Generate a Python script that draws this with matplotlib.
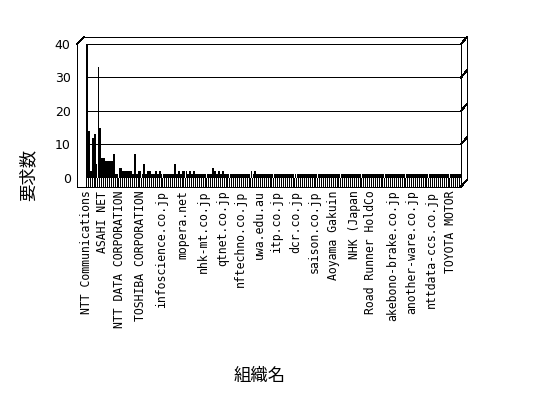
import numpy as np
import matplotlib
matplotlib.use("Agg")
import matplotlib.pyplot as plt
from matplotlib.lines import Line2D
from matplotlib.transforms import IdentityTransform, ScaledTranslation

W, H = 548, 398

# 要求数 for each organisation, one bar each, in the order of the chart
requests = [
    40, 14, 2, 12, 13, 4, 33, 15, 6, 6,
    5, 5, 5, 5, 7, 1, 1, 3, 3, 2,
    2, 2, 2, 2, 1, 7, 1, 2, 2, 1,
    4, 1, 2, 2, 1, 1, 2, 1, 2, 1,
    1, 1, 1, 1, 1, 1, 4, 1, 2, 1,
    2, 2, 2, 1, 2, 1, 2, 1, 1, 1,
    1, 1, 1, 1, 1, 1, 3, 2, 1, 2,
    1, 2, 1, 1, 1, 1, 1, 1, 1, 1,
    1, 1, 1, 1, 1, 1, 2, 1, 2, 1,
    1, 1, 1, 1, 1, 1, 1, 1, 1, 1,
    1, 1, 1, 1, 1, 1, 1, 1, 1, 1,
    1, 1, 1, 1, 1, 1, 1, 1, 1, 1,
    1, 1, 1, 1, 1, 1, 1, 1, 1, 1,
    1, 1, 1, 1, 1, 1, 1, 1, 1, 1,
    1, 1, 1, 1, 1, 1, 1, 1, 1, 1,
    1, 1, 1, 1, 1, 1, 1, 1, 1, 1,
    1, 1, 1, 1, 1, 1, 1, 1, 1, 1,
    1, 1, 1, 1, 1, 1, 1, 1, 1, 1,
    1, 1, 1, 1, 1, 1, 1, 1, 1, 1,
    1, 1, 1, 1, 1, 1,
]

# the organisations that get a label, and which bar each one belongs to
shown_names = [
    "NTT Communications", "ASAHI NET", "NTT DATA CORPORATION",
    "TOSHIBA CORPORATION", "infoscience.co.jp", "mopera.net",
    "nhk-mt.co.jp", "qtnet.co.jp", "nftechno.co.jp", "uwa.edu.au",
    "itp.co.jp", "dcr.co.jp", "saison.co.jp", "Aoyama Gakuin",
    "NHK (Japan", "Road Runner HoldCo", "akebono-brake.co.jp",
    "another-ware.co.jp", "nttdata-ccs.co.jp", "TOYOTA MOTOR",
]
shown_at = [0, 8, 17, 28, 39, 50, 61, 71, 80, 90,
            99, 109, 119, 129, 140, 148, 160, 170, 180, 190]
y_ticks = [0, 10, 20, 30, 40]

jp_font = ["Noto Sans CJK JP", "DejaVu Sans"]
LW = 0.72  # one pixel

fig = plt.figure(figsize=(W / 100, H / 100), dpi=100)
ax = fig.add_axes([86 / W, 1 - 186.5 / H, 375 / W, (186.5 - 44) / H])

x = np.arange(len(requests))
y_floor = -2.63
ax.bar(x, requests, width=0.95, color="black", linewidth=0, zorder=3)
# striped front edge of the floor
ax.vlines(x + 0.45, y_floor, 0, color="black", lw=LW,
          antialiased=False, zorder=3)

ax.set_xlim(-0.5, len(requests) - 0.5)
ax.set_ylim(y_floor, 40)
for g in y_ticks[1:-1]:
    ax.axhline(g, color="black", lw=LW, antialiased=False, zorder=1)

ax.set_yticks(y_ticks)
ax.set_xticks(shown_at)
ax.set_xticklabels(shown_names, rotation=90, fontsize=8.3,
                   family="DejaVu Sans Mono")
shift = ScaledTranslation(3 / 100, 0, fig.dpi_scale_trans)
for lbl in ax.get_xticklabels():
    lbl.set_transform(lbl.get_transform() + shift)
ax.tick_params(axis="x", length=0, pad=3)
ax.tick_params(axis="y", length=0, pad=11, labelsize=9)
for s in ax.spines.values():
    s.set_linewidth(LW)
    s.set_color("black")
    s.set_antialiased(False)


# 3D box around the plot, in pixels from the top-left corner
def seg(x0, y0, x1, y1):
    fig.add_artist(Line2D([x0, x1], [H - y0, H - y1], transform=IdentityTransform(),
                          color="black", lw=LW, antialiased=False))


seg(77, 44, 77, 186.5)
seg(77, 186.5, 86, 186.5)
seg(77, 44, 84, 37)
seg(84, 37, 467, 37)
seg(467, 37, 467, 180)
seg(467, 180, 461, 186.5)
for g in y_ticks[1:]:
    px, py = ax.transData.transform((len(requests) - 0.5, g))
    seg(px, H - py, px + 6, H - py - 7)

fig.text(28 / W, 1 - 175 / H, "要求数", rotation=90, ha="center", va="center",
         fontsize=12.5, family=jp_font)
fig.text(260 / W, 1 - 376 / H, "組織名", ha="center", va="center",
         fontsize=12.5, family=jp_font)

fig.savefig("out.png", dpi=100)
